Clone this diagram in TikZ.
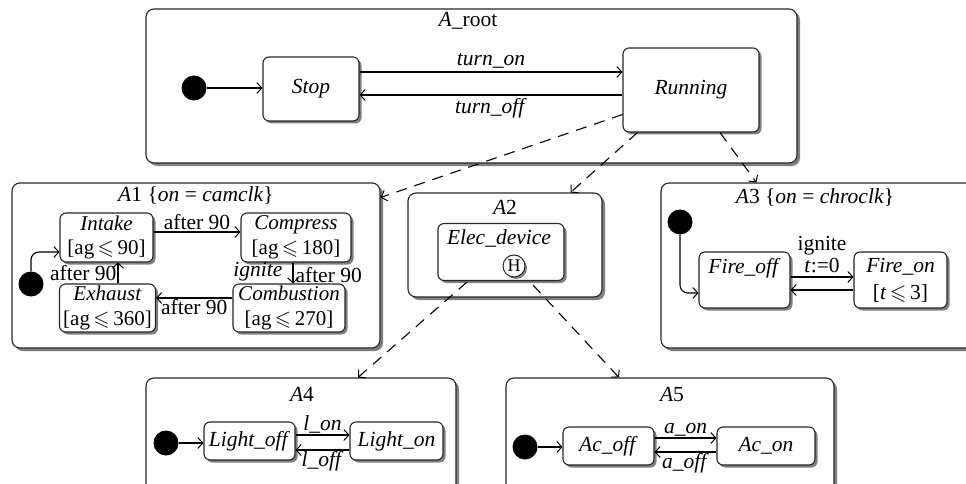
\documentclass[tikz,border=0pt]{standalone}
\usepackage{fontspec}
\setmainfont{Liberation Serif}
\usepackage{amssymb}
\usetikzlibrary{arrows.meta,shadows,calc}
\tikzset{
  comp/.style={draw=black!85, line width=1.1pt, fill=white, rounded corners=8pt,
    drop shadow={shadow xshift=3pt, shadow yshift=-3pt, fill=black!50, opacity=1}, inner sep=0pt},
  st/.style={draw=black!85, line width=1.1pt, fill=white, rounded corners=6pt,
    drop shadow={shadow xshift=2.5pt, shadow yshift=-2.5pt, fill=black!50, opacity=1}, inner sep=0pt, align=center},
  twoline/.style={st, font=\fontsize{21}{24.5}\selectfont},
  tr/.style={-{Straight Barb[length=5pt,width=11pt,line width=1pt]}, line width=1.1pt},
  dep/.style={tr, dash pattern=on 11pt off 8pt},
  init/.style={circle, fill=black, minimum size=25pt, inner sep=0pt},
  lbl/.style={inner sep=2pt}
}
\begin{document}
\begin{tikzpicture}[x=1pt, y=-1pt, font=\fontsize{21.5}{24}\selectfont]
\useasboundingbox (0,0) rectangle (966,484);
\clip (0,0) rectangle (966,484);

% ---------- root ----------
\node[comp, minimum width=651pt, minimum height=154pt] (root) at (471.5,86) {};
\node (rootT) at (468,21) {\textit{A}\_root};
\node[init] (d0) at (194,88) {};
\node[st, minimum width=96pt, minimum height=64pt] (stop) at (311,89) {\textit{Stop}};
\node[st, minimum width=136pt, minimum height=84pt] (run) at (691,90) {\textit{Running}};
\coordinate (yon) at (0,72);
\coordinate (yoff) at (0,95);
\draw[tr] (d0) -- (stop.west |- d0);
\draw[tr] (stop.east |- yon) -- node[lbl, above, yshift=1pt]{\textit{turn\_on}} (run.west |- yon);
\draw[tr] (run.west |- yoff) -- node[lbl, below, yshift=-1pt]{\textit{turn\_off}} (stop.east |- yoff);

% ---------- A1 ----------
\node[comp, minimum width=368pt, minimum height=165pt] (a1) at (196,265.5) {};
\node (a1T) at (196,195) {\textit{A}1 \{\textit{on} = \textit{camclk}\}};
\node[twoline, minimum width=93pt, minimum height=49pt] (intake) at (106.5,237.5)
  {\textit{Intake}\\{[}ag$\,\leqslant\,$90{]}};
\node[twoline, minimum width=110pt, minimum height=49pt] (compress) at (296,237.5)
  {\textit{Compress}\\{[}ag$\,\leqslant\,$180{]}};
\node[twoline, minimum width=112pt, minimum height=48pt] (combustion) at (289,308)
  {\textit{Combustion}\\{[}ag$\,\leqslant\,$270{]}};
\node[twoline, minimum width=96pt, minimum height=48pt] (exhaust) at (107.5,308)
  {\textit{Exhaust}\\{[}ag$\,\leqslant\,$360{]}};
\node[init] (d1) at (31,284) {};
\coordinate (ya) at (0,232);
\coordinate (xb) at (293,0);
\coordinate (yc) at (0,298);
\coordinate (xd) at (118,0);
\coordinate (ye) at (0,252);
\draw[tr] (intake.east |- ya) -- node[lbl, above]{after 90} (compress.west |- ya);
\draw[tr] (compress.south -| xb) -- node[lbl, left, xshift=-8pt, yshift=1pt]{\textit{ignite}} node[lbl, right, inner sep=2pt, yshift=-2pt]{after 90} (combustion.north -| xb);
\draw[tr] (combustion.west |- yc) -- node[lbl, below, yshift=1pt]{after 90} (exhaust.east |- yc);
\draw[tr] (exhaust.north -| xd) -- node[lbl, left, inner sep=1pt]{after 90} (intake.south -| xd);
\draw[tr, rounded corners=8pt] (d1.north) |- (intake.west |- ye);

% ---------- A2 ----------
\node[comp, minimum width=194pt, minimum height=104pt] (a2) at (505,245) {};
\node (a2T) at (505,207) {\textit{A}2};
\node[st, minimum width=126pt, minimum height=57pt] (elec) at (501,252) {};
\node (elecT) at (499,238) {\textit{Elec\_device}};
\node[circle, draw=black!85, line width=1pt, fill=white, minimum size=22pt, inner sep=0pt,
  drop shadow={shadow xshift=2pt, shadow yshift=-2pt, fill=black!50, opacity=1},
  font=\fontsize{18}{18}\selectfont] (hist) at (514,266) {H};

% ---------- A3 ----------
\node[comp, minimum width=340pt, minimum height=165pt] (a3) at (831,265.5) {};
\node (a3T) at (815,197) {\textit{A}3 \{\textit{on} = \textit{chroclk}\}};
\node[init] (d3) at (680,222) {};
\node[st, minimum width=91pt, minimum height=56pt] (foff) at (744.5,280) {};
\node (foffT) at (744.5,268) {\textit{Fire\_off}};
\node[st, minimum width=93pt, minimum height=56pt] (fon) at (900.5,280)
  {\textit{Fire\_on}\\[3pt]{[}\textit{t}$\,\leqslant\,$3{]}};
\coordinate (yf) at (0,277);
\coordinate (yg) at (0,290);
\coordinate (yh) at (0,293);
\draw[tr] (foff.east |- yf) -- node[lbl, above, align=center, inner sep=1pt, yshift=3pt, font=\fontsize{21.5}{22}\selectfont]{ignite\\\textit{t}:=0} (fon.west |- yf);
\draw[tr] (fon.west |- yg) -- (foff.east |- yg);
\draw[tr, rounded corners=8pt] (d3.south) |- (foff.west |- yh);

% ---------- A4 ----------
\node[comp, minimum width=310pt, minimum height=140pt] (a4) at (301,448) {};
\node (a4T) at (302,394) {\textit{A}4};
\node[init] (d4) at (166,443) {};
\node[st, minimum width=91pt, minimum height=38pt] (loff) at (249.5,441) {\textit{Light\_off}};
\node[st, minimum width=93pt, minimum height=38pt] (lon) at (396.5,441) {\textit{Light\_on}};
\coordinate (yl1) at (0,435);
\coordinate (yl2) at (0,450);
\draw[tr] (d4.east) -- (loff.west |- d4.east);
\draw[tr] (loff.east |- yl1) -- node[lbl, above, inner sep=1pt]{\textit{l\_on}} (lon.west |- yl1);
\draw[tr] (lon.west |- yl2) -- node[lbl, below, inner sep=1pt]{\textit{l\_off}} (loff.east |- yl2);

% ---------- A5 ----------
\node[comp, minimum width=328pt, minimum height=140pt] (a5) at (670,448) {};
\node (a5T) at (672,395) {\textit{A}5};
\node[init] (d5) at (525,447) {};
\node[st, minimum width=91pt, minimum height=38pt] (acoff) at (608.5,446) {\textit{Ac\_off}};
\node[st, minimum width=98pt, minimum height=38pt] (acon) at (766,446) {\textit{Ac\_on}};
\coordinate (ya1) at (0,438);
\coordinate (ya2) at (0,452);
\draw[tr] (d5.east) -- (acoff.west |- d5.east);
\draw[tr] (acoff.east |- ya1) -- node[lbl, above, inner sep=1pt]{\textit{a\_on}} (acon.west |- ya1);
\draw[tr] (acon.west |- ya2) -- node[lbl, below, inner sep=1pt]{\textit{a\_off}} (acoff.east |- ya2);

% ---------- dependencies ----------
\draw[dep] ($(run.south west)+(0,-18)$) -- ($(a1.north east)+(0,15)$);
\draw[dep] ($(run.south west)+(15,0)$) -- ($(a2.north east)+(-32,0)$);
\draw[dep] ($(run.south)+(29,0)$) -- ($(a3.north west)+(96,0)$);
\draw[dep] ($(elec.south)+(-34,1)$) -- ($(a4.north)+(57,0)$);
\draw[dep] ($(elec.south)+(32,4)$) -- ($(a5.north)+(-51,0)$);
\end{tikzpicture}
\end{document}
